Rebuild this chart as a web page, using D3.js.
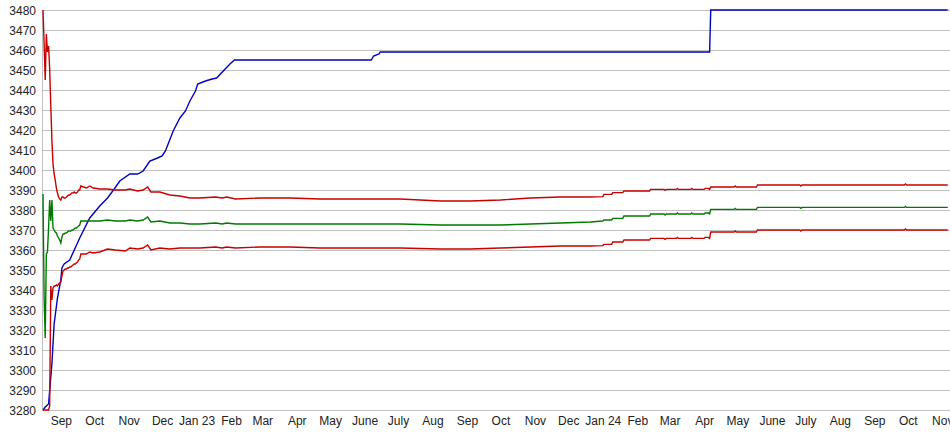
<!DOCTYPE html>
<html><head><meta charset="utf-8">
<script src="https://cdn.jsdelivr.net/npm/d3@7"></script>
<style>
html,body{margin:0;padding:0;background:#fff;overflow:hidden}
text{font-family:"Liberation Sans",Arial,sans-serif}
</style></head><body>
<svg id="chart" width="950" height="435"></svg>
<script>
// ---- data ----
const blueDates = ["2022-08-30","2022-09-01","2022-09-04","2022-09-07","2022-09-09","2022-09-12","2022-09-15","2022-09-16","2022-09-18","2022-09-23","2022-10-02","2022-10-11","2022-10-17","2022-10-20","2022-10-27","2022-11-02","2022-11-07","2022-11-16","2022-11-23","2022-11-28","2022-12-04","2022-12-11","2022-12-15","2022-12-18","2022-12-25","2022-12-31","2023-01-05","2023-01-09","2023-01-14","2023-01-16","2023-01-23","2023-01-29","2023-02-02","2023-02-08","2023-02-14","2023-02-18","2023-06-21","2023-06-23","2023-06-28","2023-06-29","2024-04-20","2024-04-21","2024-11-20"];
const blueValues = [3280,3281.5,3283,3303,3323,3336,3345,3351,3353,3355,3366,3376,3380,3382,3386,3390.5,3394.5,3398,3398,3399.5,3404.5,3406,3407,3409.5,3419.5,3426,3429.5,3434.5,3439.5,3443,3444.5,3445.5,3446,3449.5,3453,3455,3455,3457,3458,3459,3459,3480,3480];

const bandDates = ["2022-08-30","2022-08-31","2022-09-01","2022-09-02","2022-09-03","2022-09-04","2022-09-05","2022-09-06","2022-09-07","2022-09-08","2022-09-09","2022-09-10","2022-09-11","2022-09-12","2022-09-13","2022-09-14","2022-09-15","2022-09-16","2022-09-17","2022-09-18","2022-09-19","2022-09-20","2022-09-21","2022-09-22","2022-09-23","2022-09-24","2022-09-25","2022-09-26","2022-09-27","2022-09-28","2022-09-29","2022-09-30","2022-10-01","2022-10-02","2022-10-03",
"2022-10-08","2022-10-11","2022-10-14","2022-10-20","2022-10-27","2022-11-03","2022-11-12","2022-11-16","2022-11-23","2022-11-28","2022-12-02","2022-12-05","2022-12-13","2022-12-22","2022-12-31","2023-01-09","2023-01-18","2023-02-01","2023-02-07","2023-02-11","2023-02-19","2023-03-13","2023-04-09","2023-05-06","2023-06-11","2023-07-17","2023-08-22","2023-09-18","2023-10-15","2023-11-11","2023-12-08","2024-01-04","2024-01-15","2024-01-16","2024-01-23","2024-01-24","2024-02-02","2024-02-03","2024-02-26","2024-02-27","2024-03-10","2024-03-11","2024-03-12","2024-03-21","2024-03-22","2024-03-23","2024-04-03","2024-04-04","2024-04-05","2024-04-15","2024-04-16","2024-04-19","2024-04-20","2024-04-21","2024-05-12","2024-05-13","2024-05-14","2024-06-01","2024-06-02","2024-07-10","2024-07-11","2024-07-12","2024-10-12","2024-10-13","2024-10-14","2024-11-20"];
const upperValues = [3480,3463,3445,3468,3459,3462,3450.5,3432,3415,3403,3398,3395,3391,3388.5,3386.5,3385.5,3385,3386.5,3386.5,3386,3386,3386.5,3387,3387.5,3387.5,3388,3388.5,3388.5,3389,3388.5,3388.5,3389,3390,3390,3392,
3391,3392,3391,3390.5,3390.5,3390,3390,3390.5,3389.5,3390,3391.5,3389,3389,3387.5,3387,3386,3386,3386.5,3386,3386.5,3385.5,3386,3386,3385.5,3385.5,3385.5,3384.5,3384.5,3385,3386,3386.5,3386.5,3386.7,3387.8,3387.8,3388.7,3388.7,3389.5,3389.5,3390.3,3390.3,3389.8,3390.3,3390.3,3390.8,3390.3,3390.3,3390.8,3390.3,3390.3,3390.8,3390.8,3390.3,3391.5,3391.5,3392,3391.5,3391.5,3392.5,3392.5,3392,3392.5,3392.5,3393,3392.5,3392.5];
const middleValues = [3388,3336,3316,3358,3359,3371,3385,3374.5,3385,3371,3370,3369,3368.5,3367,3366,3365,3363.5,3366.5,3368,3368,3368.5,3368.5,3369,3369.5,3369.5,3369.5,3370,3370,3370.5,3371,3371,3371.5,3372,3372.5,3374.5,
3374.5,3374.5,3374.5,3374.5,3375,3374.5,3374.5,3375,3374.5,3375,3376.5,3374,3374.5,3373.5,3373.5,3373,3373,3373.5,3373,3373.5,3373,3373,3373,3373,3373,3373,3372.5,3372.5,3372.5,3373,3373.5,3374,3374.5,3375,3375,3375.8,3375.8,3377,3377,3378,3378,3377.5,3378,3378,3378.5,3378,3378,3378.5,3378,3378,3378.5,3378.5,3378,3380.3,3380.3,3380.8,3380.3,3380.3,3381.3,3381.3,3380.8,3381.3,3381.3,3381.8,3381.3,3381.3];
const lowerValues = [3280,3280,3280,3280,3280,3280,3282,3342,3335,3341,3342,3342,3342.5,3342,3343,3343.5,3344,3347,3349.5,3350,3350.5,3350.5,3351,3351,3351.5,3351.5,3352,3352.5,3353,3353,3353.5,3354,3355,3355.5,3358,
3358,3359,3358.5,3359,3360.5,3360,3359.5,3361,3360.5,3361,3362.5,3360,3361,3360.5,3361,3361,3361,3361.5,3361,3361.5,3361,3361.5,3361.5,3361,3361,3361,3360.5,3360.5,3361,3361.5,3362,3362,3362.2,3362.8,3362.8,3364,3364,3365,3365,3365.8,3365.8,3365.3,3365.8,3365.8,3366.3,3365.8,3365.8,3366.3,3365.8,3365.8,3366.3,3366.3,3365.8,3369,3369,3369.5,3369,3369,3370,3370,3369.5,3370,3370,3370.5,3370,3370];

const yTicks = [3280,3290,3300,3310,3320,3330,3340,3350,3360,3370,3380,3390,3400,3410,3420,3430,3440,3450,3460,3470,3480];
const monthLabels = ["Sep","Oct","Nov","Dec","Jan 23","Feb","Mar","Apr","May","June","July","Aug","Sep","Oct","Nov","Dec","Jan 24","Feb","Mar","Apr","May","June","July","Aug","Sep","Oct","Nov"];
const xStart = "2022-08-30", xEnd = "2024-11-22";

// ---- drawing ----
const parse = d3.timeParse("%Y-%m-%d");
const svg = d3.select("#chart");
const mLeft = 43, mRight = 950, mTop = 10, mBottom = 410;

const x = d3.scaleTime().domain([parse(xStart), parse(xEnd)]).range([mLeft, mRight]);
const y = d3.scaleLinear().domain([3280, 3480]).range([mBottom, mTop]);

// gridlines
svg.append("g").selectAll("line").data(yTicks).join("line")
  .attr("x1", mLeft).attr("x2", mRight)
  .attr("y1", d => Math.round(y(d)) + 0.5).attr("y2", d => Math.round(y(d)) + 0.5)
  .attr("stroke", "#c0c0c0").attr("stroke-width", 1);
svg.append("line").attr("x1", mLeft - 0.5).attr("x2", mLeft - 0.5)
  .attr("y1", mTop).attr("y2", mBottom + 1).attr("stroke", "#c0c0c0");

// y axis labels
const yAxis = d3.axisLeft(y).tickValues(yTicks).tickSize(0).tickPadding(7).tickFormat(d3.format("d"));
const gy = svg.append("g").attr("transform", `translate(${mLeft},0.5)`).call(yAxis);
gy.select(".domain").remove();
gy.selectAll("text").attr("font-size", 12).attr("fill", "#222").attr("font-family", "Liberation Sans, Arial, sans-serif");

// x axis labels at mid-month
const months = d3.timeMonth.range(new Date(2022, 8, 1), new Date(2024, 11, 1));
const mid = months.map(m => new Date(m.getFullYear(), m.getMonth(), 15));
const xAxis = d3.axisBottom(x).tickValues(mid).tickSize(0).tickPadding(0)
  .tickFormat((d, i) => monthLabels[i]);
const gx = svg.append("g").attr("transform", `translate(0,${mBottom})`).call(xAxis);
gx.select(".domain").remove();
gx.selectAll("text").attr("font-size", 12).attr("fill", "#222").attr("dy", null).attr("y", 15)
  .attr("font-family", "Liberation Sans, Arial, sans-serif");

// series
const lineGen = d3.line().x(d => x(d[0])).y(d => y(d[1]));
function draw(dates, values, color) {
  const pts = dates.map((d, i) => [parse(d), values[i]]);
  svg.append("path").datum(pts).attr("d", lineGen)
    .attr("fill", "none").attr("stroke", color).attr("stroke-width", 1.4);
}
draw(blueDates, blueValues, "#0000c0");
draw(bandDates, lowerValues, "#c80000");
draw(bandDates, middleValues, "#007a00");
draw(bandDates, upperValues, "#c80000");
</script>
</body></html>
